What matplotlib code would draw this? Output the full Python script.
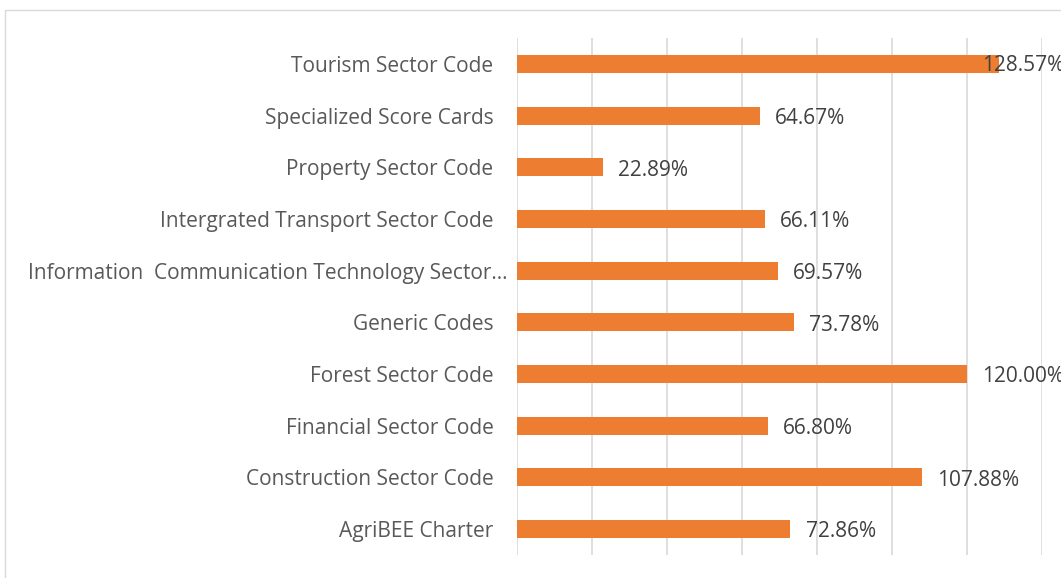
import matplotlib.pyplot as plt
from matplotlib.patches import Rectangle
from matplotlib.transforms import ScaledTranslation

categories = ["AgriBEE Charter", "Construction Sector Code", "Financial Sector Code",
              "Forest Sector Code", "Generic Codes",
              "Information  Communication Technology Sector\u2026",
              "Intergrated Transport Sector Code", "Property Sector Code",
              "Specialized Score Cards", "Tourism Sector Code"]
values = [72.86, 107.88, 66.80, 120.00, 73.78, 69.57, 66.11, 22.89, 64.67, 128.57]

plt.rcParams['font.family'] = ['Open Sans', 'DejaVu Sans']

fig = plt.figure(figsize=(10.61, 5.78), dpi=100)
ax = fig.add_axes([517 / 1061, 1 - 555 / 578, (1042 - 517) / 1061, (555 - 38) / 578])

pos = list(range(len(categories)))
ax.barh(pos, values, height=0.35, color='#ED7D31', zorder=3)

ax.set_xlim(0, 140)
ax.set_ylim(-0.5, len(categories) - 0.5)
ax.set_xticks(range(0, 141, 20))
ax.set_xticklabels([])
ax.tick_params(axis='x', length=0)
ax.tick_params(axis='y', length=0, pad=17, labelsize=15, labelcolor='#595959')
ax.set_yticks(pos)
ax.set_yticklabels(categories)
ax.grid(axis='x', color='#d9d9d9', linewidth=1.2, zorder=0)
for s in ax.spines.values():
    s.set_visible(False)

# the truncated label runs closer to the axis, like in the original
for lbl in ax.get_yticklabels():
    if lbl.get_text().endswith('\u2026'):
        lbl.set_transform(lbl.get_transform() + ScaledTranslation(0.14, 0, fig.dpi_scale_trans))

for i, v in enumerate(values):
    txt = f"{v:.2f}%"
    if v > 125:
        # no room past the bar: keep the label inside the chart edge
        ax.annotate(txt, xy=(140, i), xytext=(16, -1.5), textcoords='offset points',
                    ha='right', va='center', fontsize=15, color='#404040',
                    annotation_clip=False, zorder=4)
    else:
        ax.annotate(txt, xy=(v, i), xytext=(11, -2), textcoords='offset points',
                    ha='left', va='center', fontsize=15, color='#404040', zorder=4)

fig.patches.append(Rectangle((4.5 / 1061, -0.1), 1.2, 1.1 - 9.5 / 578,
                             transform=fig.transFigure, fill=False,
                             edgecolor='#d9d9d9', linewidth=1))

fig.savefig('out.png', dpi=100)
